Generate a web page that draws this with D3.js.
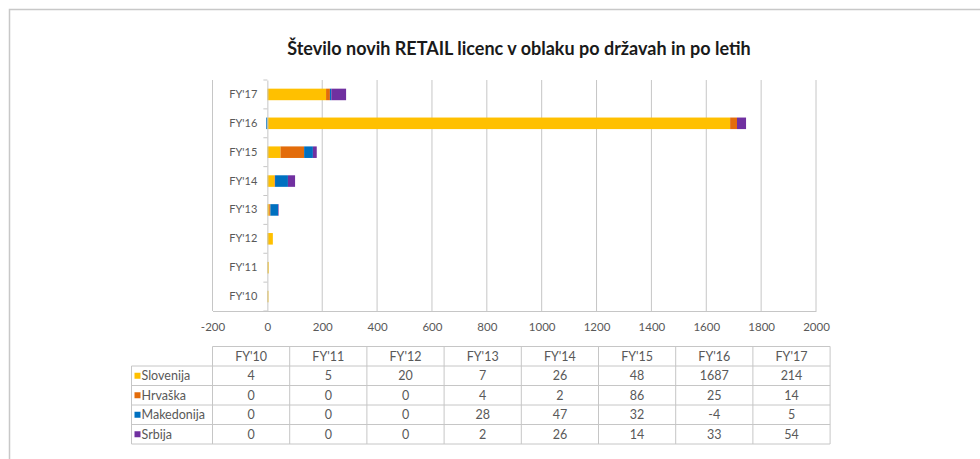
<!DOCTYPE html>
<html>
<head>
<meta charset="utf-8">
<script src="https://cdn.jsdelivr.net/npm/d3@7"></script>
<style>
  body { margin: 0; background: #fff; }
  svg { display: block; }
  text { font-family: Lato, "Open Sans", sans-serif; }
</style>
</head>
<body>
<div id="wrapper"></div>
<script>
// data
var categories = ["FY'10", "FY'11", "FY'12", "FY'13", "FY'14", "FY'15", "FY'16", "FY'17"];
var seriesNames = ["Slovenija", "Hrvaška", "Makedonija", "Srbija"];
var slovenija = [4, 5, 20, 7, 26, 48, 1687, 214];
var hrvaska = [0, 0, 0, 4, 2, 86, 25, 14];
var makedonija = [0, 0, 0, 28, 47, 32, -4, 5];
var srbija = [0, 0, 0, 2, 26, 14, 33, 54];
var xTickValues = [-200, 0, 200, 400, 600, 800, 1000, 1200, 1400, 1600, 1800, 2000];
var seriesColors = ["#FFC000", "#E36C0A", "#0070C0", "#7030A0"];
var chartTitle = "Število novih RETAIL licenc v oblaku po državah in po letih";

var values = [slovenija, hrvaska, makedonija, srbija];

var w = 980, h = 459;
var svg = d3.select("#wrapper").append("svg").attr("width", w).attr("height", h);

// outer frame (runs off the right/bottom edge like the crop)
svg.append("rect")
  .attr("x", 9.5).attr("y", 9.5)
  .attr("width", 1000).attr("height", 500)
  .attr("fill", "none").attr("stroke", "#c8c8c8").attr("stroke-width", 1.5);

svg.append("text")
  .attr("x", 519).attr("y", 55)
  .attr("text-anchor", "middle")
  .style("font-size", "18px").style("font-weight", "bold")
  .attr("fill", "#1a1a1a")
  .text(chartTitle);

var plot = { left: 212.5, right: 816, top: 80, bottom: 311 };

var x = d3.scaleLinear().domain([-200, 2000]).range([plot.left, plot.right]);
var y = d3.scaleBand().domain(categories.slice().reverse())
  .range([plot.top, plot.bottom]).paddingInner(0.6).paddingOuter(0.3);

// gridlines
svg.append("g").selectAll("line")
  .data(xTickValues.filter(function(d){ return d != 0; }))
  .enter().append("line")
  .attr("x1", function(d){ return x(d); }).attr("x2", function(d){ return x(d); })
  .attr("y1", plot.top).attr("y2", plot.bottom)
  .attr("stroke", "#c6c6c6").attr("stroke-width", 1);

// bottom axis
var xAxis = svg.append("g")
  .attr("transform", "translate(0," + plot.bottom + ")")
  .call(d3.axisBottom(x).tickValues(xTickValues).tickSize(0).tickPadding(12).tickFormat(function(d){ return String(d); }));
xAxis.select(".domain").attr("stroke", "#c6c6c6");
xAxis.selectAll("text").style("font-size", "11.5px").attr("fill", "#595959");

// stacked bars
var rows = categories.map(function(c, i) {
  var r = { cat: c };
  seriesNames.forEach(function(s, k) { r[s] = values[k][i]; });
  return r;
});
var stack = d3.stack().keys(seriesNames).offset(d3.stackOffsetDiverging);
var layers = stack(rows);

svg.append("g").selectAll("g")
  .data(layers)
  .enter().append("g")
  .attr("fill", function(d, i){ return seriesColors[i]; })
  .selectAll("rect")
  .data(function(d){ return d; })
  .enter().append("rect")
  .attr("x", function(d){ return x(Math.min(d[0], d[1])); })
  .attr("width", function(d){ return Math.abs(x(d[1]) - x(d[0])); })
  .attr("y", function(d){ return y(d.data.cat); })
  .attr("height", y.bandwidth());

// category axis at zero
var yAxis = svg.append("g")
  .attr("transform", "translate(" + x(0) + ",0)")
  .call(d3.axisLeft(y).tickSize(0).tickPadding(10));
yAxis.select(".domain").attr("stroke", "#c6c6c6");
yAxis.selectAll("text").style("font-size", "11px").attr("fill", "#595959");
yAxis.selectAll(".sep").data(d3.range(categories.length + 1)).enter().append("line")
  .attr("x1", -4).attr("x2", 0)
  .attr("y1", function(i){ return plot.top + i * y.step(); })
  .attr("y2", function(i){ return plot.top + i * y.step(); })
  .attr("stroke", "#c6c6c6");

// data table
var tab = { left: 131.5, colStart: 212.5, colW: 77.2, top: 346.5, rowH: 19.5 };
var tx = d3.scaleBand().domain(categories).range([tab.colStart, tab.colStart + tab.colW * categories.length]);
var tcol = "#c6c6c6";
var tfs = "12.5px";
var tg = svg.append("g");
var tabRight = tab.colStart + tab.colW * categories.length;
var tabBottom = tab.top + tab.rowH * (seriesNames.length + 1);

// horizontal lines
tg.append("line").attr("x1", tab.colStart).attr("x2", tabRight)
  .attr("y1", tab.top).attr("y2", tab.top).attr("stroke", tcol);
for (var r = 1; r <= seriesNames.length + 1; r++) {
  tg.append("line").attr("x1", tab.left).attr("x2", tabRight)
    .attr("y1", tab.top + r * tab.rowH).attr("y2", tab.top + r * tab.rowH).attr("stroke", tcol);
}
// vertical lines
tg.append("line").attr("x1", tab.left).attr("x2", tab.left)
  .attr("y1", tab.top + tab.rowH).attr("y2", tabBottom).attr("stroke", tcol);
for (var c = 0; c <= categories.length; c++) {
  var cx = tab.colStart + c * tab.colW;
  tg.append("line").attr("x1", cx).attr("x2", cx)
    .attr("y1", tab.top).attr("y2", tabBottom).attr("stroke", tcol);
}
// header
tg.selectAll(".hd").data(categories).enter().append("text")
  .attr("x", function(d){ return tx(d) + tx.bandwidth() / 2; })
  .attr("y", tab.top + tab.rowH / 2 + 4.5)
  .attr("text-anchor", "middle")
  .style("font-size", tfs).attr("fill", "#595959")
  .text(function(d){ return d; });
// rows
seriesNames.forEach(function(s, k) {
  var ry = tab.top + (k + 1) * tab.rowH;
  tg.append("rect").attr("x", tab.left + 3).attr("y", ry + tab.rowH / 2 - 3)
    .attr("width", 6).attr("height", 6).attr("fill", seriesColors[k]);
  tg.append("text").attr("x", tab.left + 10).attr("y", ry + tab.rowH / 2 + 4.5)
    .style("font-size", tfs).attr("fill", "#595959").text(s);
  tg.selectAll(".v" + k).data(values[k]).enter().append("text")
    .attr("x", function(d, i){ return tx(categories[i]) + tx.bandwidth() / 2; })
    .attr("y", ry + tab.rowH / 2 + 4.5)
    .attr("text-anchor", "middle")
    .style("font-size", tfs).attr("fill", "#595959")
    .text(function(d){ return d; });
});
</script>
</body>
</html>
